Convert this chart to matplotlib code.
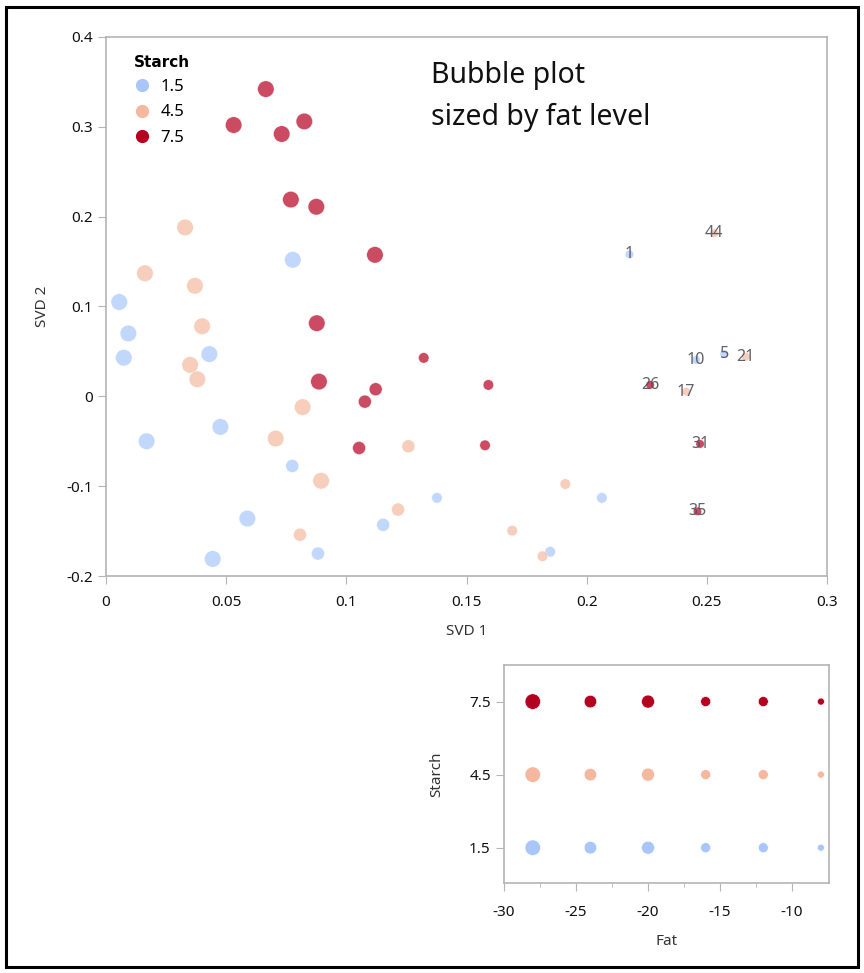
import matplotlib
matplotlib.use('Agg')
import matplotlib.pyplot as plt
from matplotlib.patches import Rectangle
from matplotlib.lines import Line2D

plt.rcParams['font.family'] = ['Noto Sans', 'DejaVu Sans']

# SVD scores per run, grouped by starch level
starch_levels = [1.5, 4.5, 7.5]
colors = {1.5: '#a9c6fb', 4.5: '#f5b89e', 7.5: '#b5001f'}

svd1_low = [0.0777, 0.0055, 0.0093, 0.0074, 0.0430, 0.0169, 0.0476, 0.0588, 0.0444,
            0.0775, 0.0882, 0.1153, 0.1377, 0.1848, 0.2063, 0.2178, 0.2572, 0.2455]
svd2_low = [0.152, 0.105, 0.070, 0.043, 0.047, -0.050, -0.034, -0.136, -0.181,
            -0.0775, -0.175, -0.143, -0.113, -0.173, -0.113, 0.158, 0.047, 0.0405]
fat_low = [-28, -24, -20, -28, -24, -20, -28, -24, -20,
           -16, -16, -16, -12, -12, -12, -8, -8, -8]
lab_low = [''] * 15 + ['1', '5', '10']

svd1_mid = [0.0329, 0.0162, 0.0370, 0.0400, 0.0350, 0.0380, 0.0818, 0.0706, 0.0895,
            0.1258, 0.1215, 0.0807, 0.1911, 0.1690, 0.1816, 0.2414, 0.2662, 0.2531]
svd2_mid = [0.188, 0.137, 0.123, 0.078, 0.035, 0.019, -0.012, -0.047, -0.094,
            -0.0556, -0.126, -0.154, -0.0976, -0.1495, -0.178, 0.0052, 0.0442, 0.1816]
fat_mid = [-28, -24, -20, -28, -24, -20, -28, -24, -20,
           -16, -16, -16, -12, -12, -12, -8, -8, -8]
lab_mid = [''] * 15 + ['17', '21', '44']

svd1_high = [0.0665, 0.0531, 0.0731, 0.0825, 0.0769, 0.0875, 0.1119, 0.0877, 0.0886,
             0.1122, 0.1077, 0.1053, 0.1322, 0.1591, 0.1577, 0.2264, 0.2472, 0.2461]
svd2_high = [0.342, 0.302, 0.292, 0.306, 0.219, 0.211, 0.1575, 0.0814, 0.0164,
             0.0079, -0.0059, -0.0575, 0.0428, 0.0127, -0.0545, 0.0127, -0.053, -0.128]
fat_high = [-28, -24, -20, -28, -24, -20, -28, -24, -20,
            -16, -16, -16, -12, -12, -12, -8, -8, -8]
lab_high = [''] * 15 + ['26', '31', '35']

groups = [
    (1.5, svd1_low, svd2_low, fat_low, lab_low),
    (4.5, svd1_mid, svd2_mid, fat_mid, lab_mid),
    (7.5, svd1_high, svd2_high, fat_high, lab_high),
]

# design grid for the size key
fat_levels = [-28, -24, -20, -16, -12, -8]

x_ticks = [0, 0.05, 0.1, 0.15, 0.2, 0.25, 0.3]
x_ticklabels = ['0', '0.05', '0.1', '0.15', '0.2', '0.25', '0.3']
y_ticks = [-0.2, -0.1, 0, 0.1, 0.2, 0.3, 0.4]
y_ticklabels = ['-0.2', '-0.1', '0', '0.1', '0.2', '0.3', '0.4']

# bubble diameters (pixels) by fat level
main_diam = {-28: 16.5, -24: 16.5, -20: 16.5, -16: 13, -12: 10.5, -8: 8.5}
key_diam = {-28: 15.5, -24: 12.5, -20: 13, -16: 10, -12: 10, -8: 7}


def area(d):
    return (d * 0.72) ** 2


fig = plt.figure(figsize=(8.64, 9.73), dpi=100)
fig.patches.append(Rectangle((0.007, 0.006), 0.986, 0.987, transform=fig.transFigure,
                             fill=False, edgecolor='black', linewidth=2.2))

spine_col = '#b4b4b4'
ax = fig.add_axes([0.1227, 0.408, 0.8345, 0.554])
for st, xs, ys, fs, labs in groups:
    ax.scatter(xs, ys, s=[area(main_diam[f]) for f in fs], color=colors[st],
               alpha=0.7, edgecolors='white', linewidths=0.4, zorder=3)
    for x, y, t in zip(xs, ys, labs):
        if t:
            ax.text(x, y, t, ha='center', va='center', fontsize=11.5,
                    color='#50505c', alpha=0.9, zorder=4)

ax.set_xlim(0, 0.3)
ax.set_ylim(-0.2, 0.4)
ax.set_xticks(x_ticks)
ax.set_xticklabels(x_ticklabels)
ax.set_yticks(y_ticks)
ax.set_yticklabels(y_ticklabels)
ax.set_xlabel('SVD 1', fontsize=11, color='#333333', labelpad=10)
ax.set_ylabel('SVD 2', fontsize=11, color='#333333', labelpad=12)
ax.tick_params(direction='out', length=6, color=spine_col, labelsize=11, labelcolor='#111111')
ax.tick_params(axis='x', pad=8)
for sp in ax.spines.values():
    sp.set_color(spine_col)
    sp.set_linewidth(1.2)

handles = [Line2D([], [], marker='o', linestyle='', markersize=8.5,
                  color=colors[st], label=str(st)) for st in starch_levels]
leg = ax.legend(handles=handles, title='Starch', loc='upper left',
                bbox_to_anchor=(0.025, 0.985), frameon=False, fontsize=12,
                handlelength=1.0, handletextpad=0.6, labelspacing=0.55,
                borderaxespad=0.2,
                title_fontproperties={'family': ['DejaVu Sans'], 'weight': 'bold',
                                      'size': 11})
leg._legend_box.align = 'left'

ax.text(0.451, 0.955, 'Bubble plot\nsized by fat level', transform=ax.transAxes,
        fontsize=20.5, va='top', ha='left', linespacing=1.58, color='#111111')

# size key: every fat x starch combination
ax2 = fig.add_axes([0.5833, 0.0925, 0.376, 0.224])
for st in starch_levels:
    ax2.scatter(fat_levels, [st] * len(fat_levels),
                s=[area(key_diam[f]) for f in fat_levels],
                color=colors[st], edgecolors='white', linewidths=0.4, zorder=3)
ax2.set_xlim(-30, -7.45)
ax2.set_ylim(0.05, 9.0)
ax2.set_yticks(starch_levels)
ax2.set_yticklabels(['1.5', '4.5', '7.5'])
ax2.set_xticks([-30, -25, -20, -15, -10])
ax2.set_xticklabels(['-30', '-25', '-20', '-15', '-10'])
ax2.set_xticks([-27.5, -22.5, -17.5, -12.5], minor=True)
ax2.set_xlabel('Fat', fontsize=11, color='#333333', labelpad=10)
ax2.set_ylabel('Starch', fontsize=11, color='#333333', labelpad=18)
ax2.tick_params(which='major', direction='out', length=6, color=spine_col,
                labelsize=11, labelcolor='#111111')
ax2.tick_params(axis='x', which='major', pad=10)
ax2.tick_params(which='minor', direction='out', length=3, color=spine_col)
for sp in ax2.spines.values():
    sp.set_color(spine_col)
    sp.set_linewidth(1.2)

fig.savefig('out.png', dpi=100, facecolor='white')
